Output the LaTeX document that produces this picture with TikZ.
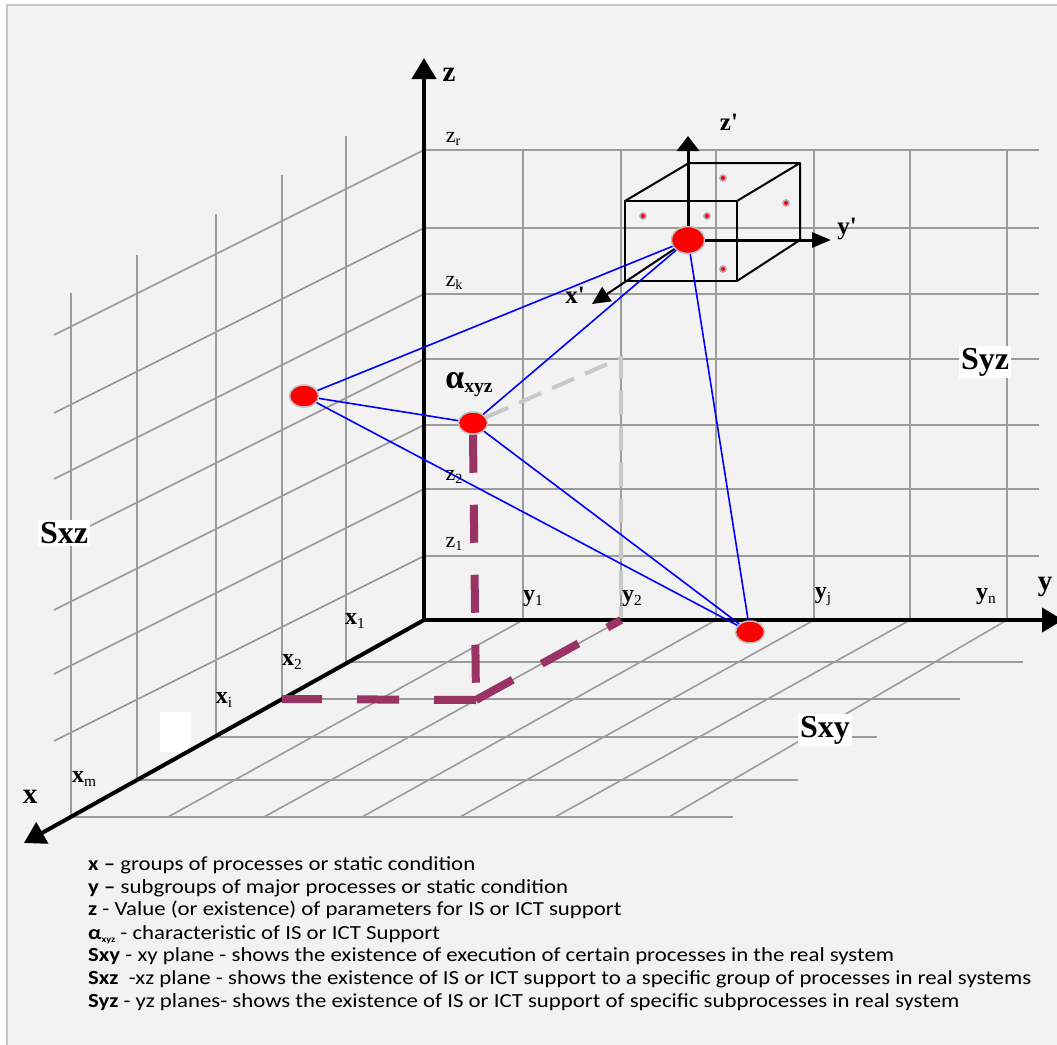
\documentclass[tikz,border=0pt]{standalone}
\usepackage{fontspec}
\setmainfont{Liberation Serif}
\newfontfamily\legendfont[FakeStretch=1.14]{Carlito}
\usetikzlibrary{arrows.meta,shapes.geometric}

\definecolor{panel}{HTML}{F2F2F2}
\definecolor{panelline}{HTML}{C8C8C8}
\definecolor{gridgray}{HTML}{9B9B9B}
\definecolor{projpurple}{HTML}{993366}
\definecolor{shadowgray}{HTML}{C8C8C8}
\definecolor{dotring}{HTML}{BFBFBF}

\newcommand{\tsub}[1]{\raisebox{-0.35ex}{\scalebox{0.64}{\mdseries #1}}}

\tikzset{
  grid line/.style={draw=gridgray, line width=1.6pt},
  axis/.style={line width=4pt, -{Triangle[length=21pt,width=24pt]}},
  cube/.style={line width=2pt, line join=round},
  link/.style={draw=blue, line width=1.6pt},
  proj/.style={draw=projpurple, line width=8pt, dash pattern=on 38pt off 32pt},
  shadow/.style={draw=shadowgray, line width=4pt, dash pattern=on 24pt off 12pt},
  dot/.style={ellipse, fill=red, draw=dotring, line width=1.5pt, inner sep=0pt,
    minimum width=29pt, minimum height=22pt},
  small dot/.style={circle, fill=red, draw=gridgray!80, line width=1.6pt, inner sep=0pt,
    minimum size=6pt},
  axis label/.style={font=\bfseries\fontsize{29}{29}\selectfont},
  tick label/.style={font=\fontsize{24}{24}\selectfont, inner sep=0pt},
  level label/.style={font=\fontsize{22}{22}\selectfont, inner sep=0pt},
  plane label/.style={fill=white, inner sep=2pt, font=\bfseries\fontsize{32}{32}\selectfont},
  legend/.style={anchor=base west, inner sep=0pt, font=\legendfont\fontsize{20}{20}\selectfont},
}

\begin{document}
\begin{tikzpicture}[x=1pt,y=-1pt]
    \useasboundingbox (0,0) rectangle (1057,1044);
    \fill[white] (0,0) rectangle (1057,1044);
    \filldraw[fill=panel, draw=panelline, line width=1.5pt] (7,5) rectangle (1075,1060);

    % yz plane
    \foreach \z in {150,228,294,359,425,489,556}
        \draw[grid line] (424,\z) -- (1039,\z);
    \foreach \y in {523,621,716,814,910,1007}
        \draw[grid line] (\y,150) -- (\y,620);
    % xz plane
    \foreach \z in {150,228,294,359,425,489,556}
        \draw[grid line] (424,\z) -- ++(-370,185);
    \foreach \x/\b/\t in {346/662/136, 282/699/175, 216/737/214, 137/780/255, 71/817/293}
        \draw[grid line] (\x,\t) -- (\x,\b);
    % xy plane
    \foreach \x/\b/\e in {346/662/1023, 282/699/960, 216/737/877, 137/780/798, 71/817/733}
        \draw[grid line] (\x,\b) -- (\e,\b);
    \foreach \y/\e in {523/168, 621/264, 716/362, 814/460, 910/555, 1007/669}
        \draw[grid line] (\y,620) -- (\e,817);

    \coordinate (O) at (424,620);
    \coordinate (zend) at (424,58);
    \coordinate (yend) at (1063,620);
    \coordinate (xend) at (24,843);
    \coordinate (x2) at (282,699);
    \coordinate (y2) at (621,620);
    \coordinate (foot) at (476,700);
    \coordinate (wall) at (621,358);

    \fill[white] (160,712) rectangle (191,752);

    % points
    \node[dot] (p1) at (304,396) {};
    \node[dot] (alpha) at (473,423) {};
    \node[dot, minimum width=33pt, minimum height=27pt] (p3) at (688,240) {};

    \draw[shadow] (alpha) -- (wall) -- (y2);

    \draw[axis] (O) -- (zend);
    \draw[axis] (O) -- (yend);
    \draw[axis] (O) -- (xend);

    \node[dot] (p4) at (750,632) {};

    \draw[proj] (alpha.south) -- (foot);
    \draw[proj, dash pattern=on 42pt off 35pt] (foot) -- (x2);
    \draw[proj, dash pattern=on 42pt off 33pt] (foot) -- (y2);

    % local cube
    \draw[cube] (625,201) rectangle (737,281);
    \draw[cube] (625,201) -- (689,163) -- (800,163) -- (737,201);
    \draw[cube] (800,163) -- (800,240) -- (737,281);
    \foreach \p [count=\i] in {(643,216),(707,216),(723,178),(786,203),(723,269)}
        \node[small dot] (s\i) at \p {};
    \coordinate (zp) at (688,136);
    \coordinate (yp) at (831,240);
    \coordinate (xp) at (592,304);
    \draw[line width=3pt, -{Triangle[length=15pt,width=22pt]}] (p3) -- (zp);
    \draw[line width=3pt, -{Triangle[length=19pt,width=15pt]}] (p3) -- (yp);
    \draw[line width=2pt, -{Triangle[length=18pt,width=17pt]}] (p3) -- (xp);

    \draw[link] (p1) -- (p3);
    \draw[link] (p1) -- (alpha);
    \draw[link] (p1) -- (p4);
    \draw[link] (alpha) -- (p3);
    \draw[link] (alpha) -- (p4);
    \draw[link] (p3) -- (p4);

    % labels
    \node[axis label] (lz) at (449,75) {z};
    \node[axis label] (ly) at (1045,587) {y};
    \node[axis label] (lx) at (30,797) {x};
    \node[axis label, font=\bfseries\fontsize{25}{25}\selectfont] (lzp) at (729,122) {z\textquotesingle};
    \node[axis label, font=\bfseries\fontsize{25}{25}\selectfont] (lyp) at (847,229) {y\textquotesingle};
    \node[axis label, font=\bfseries\fontsize{25}{25}\selectfont] (lxp) at (575,295) {x\textquotesingle};

    \node[level label] (zr) at (453,139) {z\tsub{r}};
    \node[level label] (zk) at (454,283) {z\tsub{k}};
    \node[level label] (z2) at (454,477) {z\tsub{2}};
    \node[level label] (z1) at (454,544) {z\tsub{1}};

    \node[tick label] (ly1) at (533,599) {\textbf{y}\tsub{1}};
    \node[tick label] (ly2) at (632,599) {\textbf{y}\tsub{2}};
    \node[tick label] (lyj) at (823,597) {\textbf{y}\tsub{j}};
    \node[tick label] (lyn) at (986,597) {\textbf{y}\tsub{n}};
    \node[tick label] (lx1) at (355,621) {\textbf{x}\tsub{1}};
    \node[tick label] (lx2) at (292,662) {\textbf{x}\tsub{2}};
    \node[tick label] (lxi) at (224,700) {\textbf{x}\tsub{i}};
    \node[tick label] (lxm) at (84,779) {\textbf{x}\tsub{m}};

    \node[font=\bfseries\fontsize{34}{34}\selectfont, inner sep=0pt] (lalpha) at (469,385) {α\raisebox{-0.25ex}{\scalebox{0.58}{xyz}}};

    \node[plane label] (sxz) at (64,533) {Sxz};
    \node[plane label] (syz) at (985,362) {Syz};
    \node[plane label] (sxy) at (825,730) {Sxy};

    % legend
    \node[legend] (l1) at (88,870) {\textbf{x –} groups of processes or static condition};
    \node[legend] (l2) at (88,893) {\textbf{y –} subgroups of major processes or static condition};
    \node[legend] (l3) at (88,915) {\textbf{z} - Value (or existence) of parameters for IS or ICT support};
    \node[legend] (l4) at (88,939) {\textbf{α}\raisebox{-0.4ex}{\scalebox{0.45}{\textbf{xyz}}} - characteristic of IS or ICT Support};
    \node[legend] (l5) at (88,961) {\textbf{Sxy} - xy plane - shows the existence of execution of certain processes in the real system};
    \node[legend] (l6) at (88,984) {\textbf{Sxz}\ \ -xz plane - shows the existence of IS or ICT support to a specific group of processes in real systems};
    \node[legend] (l7) at (88,1007) {\textbf{Syz} - yz planes- shows the existence of IS or ICT support of specific subprocesses in real system};
\end{tikzpicture}
\end{document}
